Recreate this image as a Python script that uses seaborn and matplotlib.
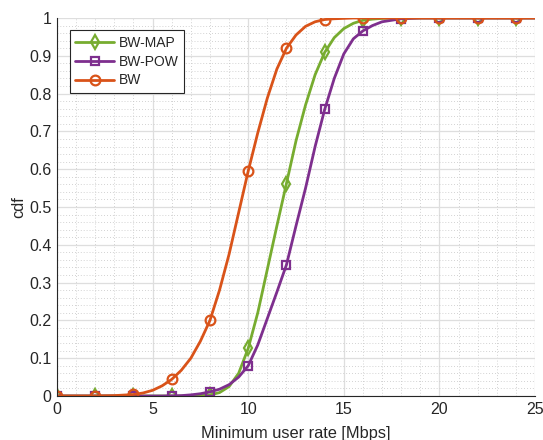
import numpy as np
import pandas as pd
import matplotlib
matplotlib.use("Agg")
import matplotlib.pyplot as plt
from matplotlib.ticker import MultipleLocator
import seaborn as sns

# Minimum user rate samples [Mbps]
rate = [0, 1, 2, 3, 4, 4.5, 5, 5.5, 6, 6.5, 7, 7.5, 8, 8.5, 9, 9.5, 10, 10.5,
        11, 11.5, 12, 12.5, 13, 13.5, 14, 14.5, 15, 15.5, 16, 16.5, 17, 18,
        19, 20, 21, 22, 23, 24, 25]

# Empirical CDF of each scheme at the rates above
cdf_bw_map = [0, 0, 0, 0, 0, 0, 0, 0, 0, 0, 0.0005, 0.001, 0.003, 0.009, 0.025,
              0.06, 0.126, 0.22, 0.335, 0.45, 0.562, 0.675, 0.77, 0.85, 0.909,
              0.948, 0.972, 0.986, 0.994, 0.997, 0.999, 1, 1, 1, 1, 1, 1, 1, 1]
cdf_bw_pow = [0, 0, 0, 0, 0, 0, 0, 0, 0.0005, 0.001, 0.003, 0.006, 0.011, 0.018,
              0.03, 0.05, 0.08, 0.135, 0.205, 0.275, 0.347, 0.45, 0.55, 0.66,
              0.758, 0.84, 0.905, 0.945, 0.966, 0.98, 0.99, 0.998, 1, 1, 1, 1,
              1, 1, 1]
cdf_bw = [0, 0, 0, 0.001, 0.004, 0.008, 0.015, 0.027, 0.044, 0.068, 0.1, 0.145,
          0.2, 0.28, 0.375, 0.485, 0.595, 0.696, 0.788, 0.865, 0.92, 0.955,
          0.978, 0.99, 0.996, 0.998, 0.999, 1, 1, 1, 1, 1, 1, 1, 1, 1, 1, 1, 1]

series_names = ["BW-MAP", "BW-POW", "BW"]
series_colors = ["#77AC30", "#7E2F8E", "#D95319"]
series_markers = ["d", "s", "o"]
series_msize = [7, 5.5, 7]

x_ticks = [0, 5, 10, 15, 20, 25]
y_ticks = [0, 0.1, 0.2, 0.3, 0.4, 0.5, 0.6, 0.7, 0.8, 0.9, 1]
y_tick_labels = ["0", "0.1", "0.2", "0.3", "0.4", "0.5", "0.6", "0.7", "0.8", "0.9", "1"]

df = pd.DataFrame({
    "rate": rate * 3,
    "cdf": cdf_bw_map + cdf_bw_pow + cdf_bw,
    "scheme": sum([[n] * len(rate) for n in series_names], []),
})

sns.set_style("white")
plt.rcParams["font.family"] = ["Liberation Sans", "DejaVu Sans"]
plt.rcParams["font.size"] = 10

fig = plt.figure(figsize=(5.43, 4.4), dpi=100)
ax = fig.add_axes([57 / 543, 44 / 440, 478 / 543, 378 / 440])

# markers only on the even rates
mark_idx = [i for i, r in enumerate(rate) if float(r).is_integer() and int(r) % 2 == 0]

for name, col, mk, ms in zip(series_names, series_colors, series_markers, series_msize):
    sub = df[df["scheme"] == name]
    sns.lineplot(data=sub, x="rate", y="cdf", ax=ax, color=col, lw=2,
                 marker=mk, markevery=mark_idx, markersize=ms,
                 markerfacecolor="none", markeredgecolor=col,
                 markeredgewidth=1.6, label=name, estimator=None, sort=True)

ax.set_xlim(0, 25)
ax.set_ylim(0, 1)
ax.set_xticks(x_ticks)
ax.set_yticks(y_ticks)
ax.set_yticklabels(y_tick_labels)
ax.xaxis.set_minor_locator(MultipleLocator(1))
ax.yaxis.set_minor_locator(MultipleLocator(0.02))

ax.grid(True, which="major", color="#dedede", lw=0.9, ls="-")
ax.grid(True, which="minor", color="#c4c4c4", lw=0.6, ls=(0, (1, 2.5)))
ax.set_axisbelow(True)

for s in ["top", "right"]:
    ax.spines[s].set_visible(False)
for s in ["left", "bottom"]:
    ax.spines[s].set_color("#262626")
    ax.spines[s].set_linewidth(0.8)

ax.tick_params(which="major", direction="in", length=5, width=0.8,
               colors="#262626", labelsize=11.5, labelcolor="#262626", pad=4)
ax.tick_params(which="minor", length=0)

ax.set_xlabel("Minimum user rate [Mbps]", fontsize=11.8, color="#262626", labelpad=7)
ax.set_ylabel("cdf", fontsize=11.8, color="#262626", labelpad=2)

leg = ax.legend(loc="upper left", bbox_to_anchor=(0.027, 0.968), borderaxespad=0,
                fontsize=10, handlelength=2.8, handletextpad=0.3,
                labelspacing=0.35, borderpad=0.4, fancybox=False, framealpha=1,
                edgecolor="#262626")
leg.get_frame().set_linewidth(0.8)

fig.savefig("out.png", dpi=100)
